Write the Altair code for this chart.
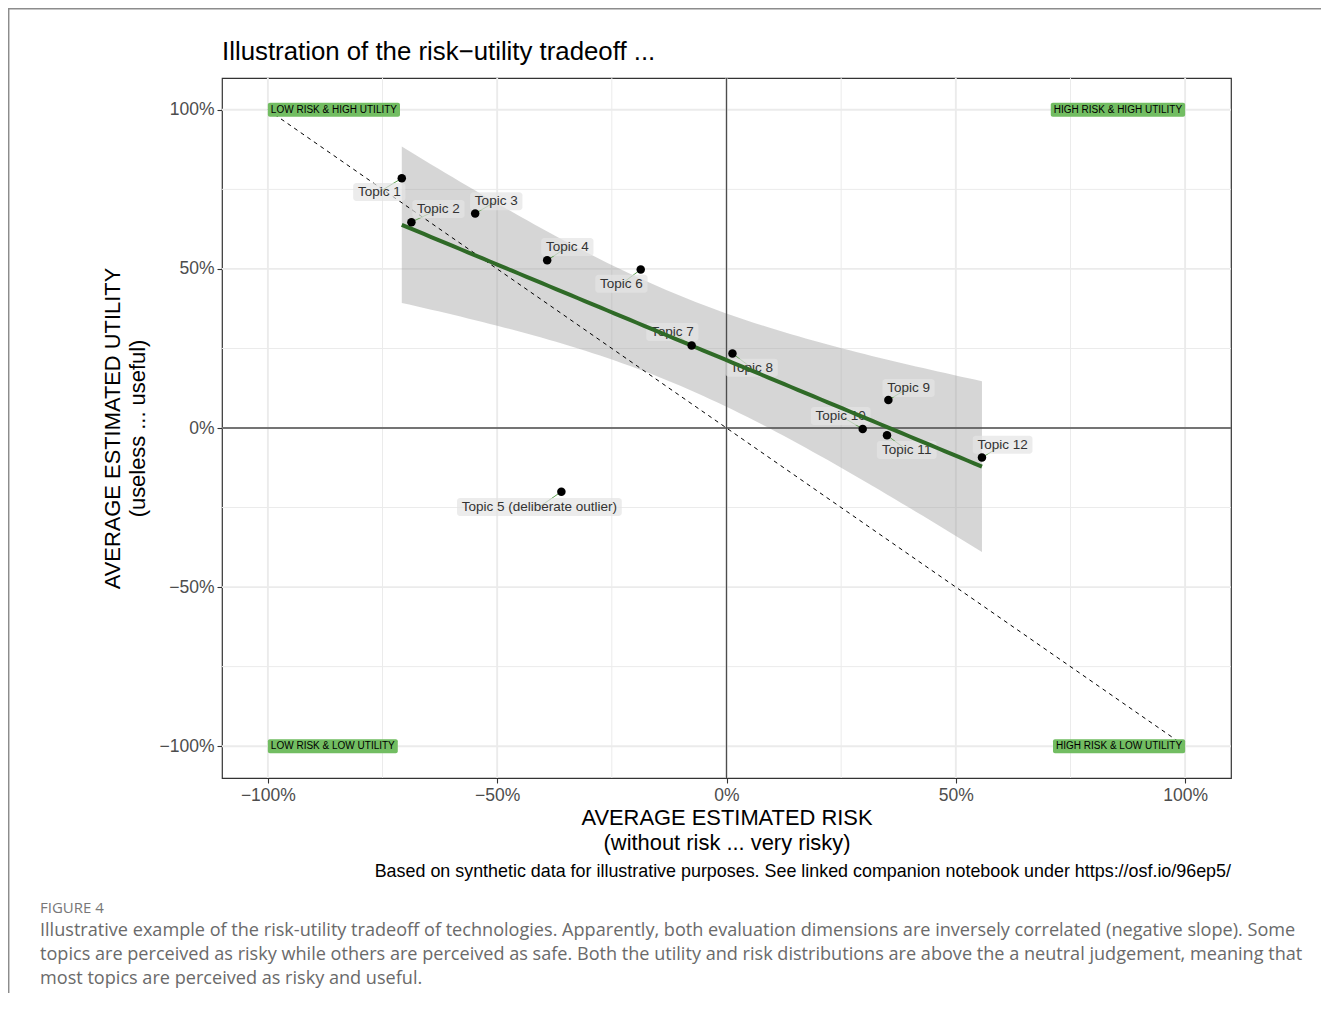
import altair as alt
import numpy as np
import pandas as pd

# ---------------- data ----------------
topic = ["Topic 1", "Topic 2", "Topic 3", "Topic 4", "Topic 5", "Topic 6",
         "Topic 7", "Topic 8", "Topic 9", "Topic 10", "Topic 11", "Topic 12"]
label = ["Topic 1", "Topic 2", "Topic 3", "Topic 4", "Topic 5 (deliberate outlier)", "Topic 6",
         "Topic 7", "Topic 8", "Topic 9", "Topic 10", "Topic 11", "Topic 12"]
risk = [-0.708, -0.687, -0.548, -0.391, -0.360, -0.187, -0.076, 0.013, 0.353, 0.297, 0.350, 0.557]
utility = [0.785, 0.647, 0.674, 0.527, -0.200, 0.498, 0.259, 0.234, 0.088, -0.003, -0.023, -0.093]
label_risk = [-0.757, -0.628, -0.502, -0.347, -0.408, -0.229, -0.118, 0.055, 0.397, 0.249, 0.393, 0.602]
label_utility = [0.742, 0.688, 0.713, 0.569, -0.248, 0.453, 0.302, 0.189, 0.126, 0.038, -0.069, -0.053]

corner_text = ["LOW RISK & HIGH UTILITY", "HIGH RISK & HIGH UTILITY",
               "LOW RISK & LOW UTILITY", "HIGH RISK & LOW UTILITY"]
corner_risk = [-1, 1, -1, 1]
corner_utility = [1, 1, -1, -1]
corner_hjust = [0, 1, 0, 1]

diag_risk = [-1, 1]
diag_utility = [1, -1]

major_breaks = [-1, -0.5, 0, 0.5, 1]
minor_breaks = [-0.75, -0.25, 0.25, 0.75]

title_text = "Illustration of the risk\u2212utility tradeoff ..."
x_title = ["AVERAGE ESTIMATED RISK", "(without risk ... very risky)"]
y_title = ["AVERAGE ESTIMATED UTILITY", "(useless ... useful)"]
note_text = "Based on synthetic data for illustrative purposes. See linked companion notebook under https://osf.io/96ep5/"
fig_label = "FIGURE 4"
caption_lines = [
    "Illustrative example of the risk-utility tradeoff of technologies. Apparently, both evaluation dimensions are inversely correlated (negative slope). Some",
    "topics are perceived as risky while others are perceived as safe. Both the utility and risk distributions are above the a neutral judgement, meaning that",
    "most topics are perceived as risky and useful.",
]

# ---------------- layout / style ----------------
W_PLOT, H_PLOT = 1009, 700
DOM = [-1.1, 1.1]
PX_X = W_PLOT / (DOM[1] - DOM[0])
PX_Y = H_PLOT / (DOM[1] - DOM[0])
FONT = "Liberation Sans"
LAB_SIZE = 13.5
CORNER_SIZE = 10

# Helvetica / Arial advance widths (per 1000 em) to size the label boxes
ADV = {' ': 278, 'T': 611, 'o': 556, 'p': 556, 'i': 222, 'c': 500, '(': 333, ')': 333,
       'd': 556, 'e': 556, 'l': 222, 'b': 556, 'r': 333, 'a': 556, 't': 278, 'u': 556,
       'L': 556, 'O': 778, 'W': 944, 'R': 722, 'I': 278, 'S': 667, 'K': 667, '&': 667,
       'H': 722, 'G': 778, 'U': 722, 'Y': 667}


def text_w(s, size):
    return sum(ADV.get(ch, 556) for ch in s) / 1000.0 * size


# ---------------- tables ----------------
pts = pd.DataFrame({"topic": topic, "risk": risk, "utility": utility,
                    "label": label, "lrisk": label_risk, "lutil": label_utility})
bw = np.array([text_w(s, LAB_SIZE) + 8 for s in label]) / PX_X
bh = 18 / PX_Y
pts["bx1"] = pts["lrisk"] - bw / 2
pts["bx2"] = pts["lrisk"] + bw / 2
pts["by1"] = pts["lutil"] - bh / 2
pts["by2"] = pts["lutil"] + bh / 2

cw = np.array([text_w(s, CORNER_SIZE) + 6 for s in corner_text]) / PX_X
corners = pd.DataFrame({"text": corner_text, "risk": corner_risk, "utility": corner_utility,
                        "hj": corner_hjust})
corners["x1"] = np.where(corners["hj"] == 0, corners["risk"], corners["risk"] - cw)
corners["x2"] = np.where(corners["hj"] == 0, corners["risk"] + cw, corners["risk"])
corners["xc"] = (corners["x1"] + corners["x2"]) / 2
corners["y1"] = corners["utility"] - 7 / PX_Y
corners["y2"] = corners["utility"] + 7 / PX_Y

# linear model fit with 95% confidence band (as geom_smooth(method="lm"))
xv = np.array(risk)
yv = np.array(utility)
n = len(xv)
b1, b0 = np.polyfit(xv, yv, 1)
resid = yv - (b0 + b1 * xv)
s = np.sqrt((resid ** 2).sum() / (n - 2))
sxx = ((xv - xv.mean()) ** 2).sum()
T975 = 2.228138852  # t quantile, df = 10
grid = np.linspace(xv.min(), xv.max(), 80)
fit = b0 + b1 * grid
se = s * np.sqrt(1.0 / n + (grid - xv.mean()) ** 2 / sxx)
band = pd.DataFrame({"risk": grid, "fit": fit, "lo": fit - T975 * se, "hi": fit + T975 * se})

diag = pd.DataFrame({"risk": diag_risk, "utility": diag_utility})
major = pd.DataFrame({"v": major_breaks})
minor = pd.DataFrame({"v": minor_breaks})
zero = pd.DataFrame({"v": [0]})

# ---------------- scales / axes ----------------
xs = alt.Scale(domain=DOM, nice=False, zero=False)
ys = alt.Scale(domain=DOM, nice=False, zero=False)
x_axis = alt.Axis(values=major_breaks, format=".0%", title=x_title, grid=False,
                  titlePadding=4, titleLineHeight=25)
y_axis = alt.Axis(values=major_breaks, format=".0%", title=y_title, grid=False,
                  titlePadding=10, titleLineHeight=25)


def X(f):
    return alt.X(f, type="quantitative", scale=xs, axis=x_axis)


def Y(f):
    return alt.Y(f, type="quantitative", scale=ys, axis=y_axis)


# ---------------- layers ----------------
minor_v = alt.Chart(minor).mark_rule(color="#ebebeb", strokeWidth=1).encode(x=X("v"))
minor_h = alt.Chart(minor).mark_rule(color="#ebebeb", strokeWidth=1).encode(y=Y("v"))
major_v = alt.Chart(major).mark_rule(color="#ebebeb", strokeWidth=1.9).encode(x=X("v"))
major_h = alt.Chart(major).mark_rule(color="#ebebeb", strokeWidth=1.9).encode(y=Y("v"))

band_l = alt.Chart(band).mark_area(color="#999999", opacity=0.4).encode(
    x=X("risk"), y=Y("lo"), y2=alt.Y2("hi"))

zero_v = alt.Chart(zero).mark_rule(color="#4d4d4d", strokeWidth=1.3).encode(x=X("v"))
zero_h = alt.Chart(zero).mark_rule(color="#4d4d4d", strokeWidth=1.3).encode(y=Y("v"))

diag_l = alt.Chart(diag).mark_line(color="black", strokeWidth=1, strokeDash=[4, 4]).encode(
    x=X("risk"), y=Y("utility"))

seg = alt.Chart(pts).mark_rule(color="#5fa052", strokeWidth=1).encode(
    x=X("risk"), y=Y("utility"), x2=alt.X2("lrisk"), y2=alt.Y2("lutil"))

lab_box = alt.Chart(pts).mark_rect(color="#e4e4e4", opacity=0.7, cornerRadius=3).encode(
    x=X("bx1"), x2=alt.X2("bx2"), y=Y("by1"), y2=alt.Y2("by2"))

lab_txt = alt.Chart(pts).mark_text(font=FONT, fontSize=LAB_SIZE, color="#333333",
                                   baseline="middle", align="center").encode(
    x=X("lrisk"), y=Y("lutil"), text="label:N")

fit_l = alt.Chart(band).mark_line(color="#2f6a27", strokeWidth=4).encode(
    x=X("risk"), y=Y("fit"))

points = alt.Chart(pts).mark_circle(size=72, color="black", opacity=1).encode(
    x=X("risk"), y=Y("utility"))

corner_box = alt.Chart(corners).mark_rect(color="#72bd62", cornerRadius=2).encode(
    x=X("x1"), x2=alt.X2("x2"), y=Y("y1"), y2=alt.Y2("y2"))
corner_txt = alt.Chart(corners).mark_text(font=FONT, fontSize=CORNER_SIZE, color="black",
                                          baseline="middle", align="center").encode(
    x=X("xc"), y=Y("utility"), text="text:N")

one = pd.DataFrame({"t": [note_text], "f": [fig_label], "c": ["\n".join(caption_lines)],
                    "h": [title_text]})
title_l = alt.Chart(one).mark_text(font=FONT, fontSize=25.8, color="black", align="left",
                                   baseline="middle").encode(
    x=alt.value(0), y=alt.value(-26), text="h:N")
note = alt.Chart(one).mark_text(font=FONT, fontSize=17.9, color="black", align="right",
                                baseline="middle").encode(
    x=alt.value(W_PLOT), y=alt.value(794), text="t:N")
fig = alt.Chart(one).mark_text(font="Open Sans", fontSize=15, color="#777777", align="left",
                               baseline="middle").encode(
    x=alt.value(-182), y=alt.value(830), text="f:N")
cap = alt.Chart(one).mark_text(font="Open Sans", fontSize=18.1, color="#6a6a6a", align="left",
                               baseline="middle", lineBreak="\n", lineHeight=24).encode(
    x=alt.value(-182), y=alt.value(853), text="c:N")

frame_top = alt.Chart(one).mark_rule(color="#8c8c8c", strokeWidth=1.5).encode(
    x=alt.value(-214), x2=alt.value(W_PLOT + 90), y=alt.value(-69.3))
frame_left = alt.Chart(one).mark_rule(color="#8c8c8c", strokeWidth=1.5).encode(
    x=alt.value(-213.3), y=alt.value(-70), y2=alt.value(H_PLOT + 215))

chart = alt.layer(
    minor_v, minor_h, major_v, major_h, band_l, zero_v, zero_h, diag_l,
    seg, lab_box, lab_txt, fit_l, points, corner_box, corner_txt,
    title_l, note, fig, cap, frame_top, frame_left,
).properties(
    width=W_PLOT, height=H_PLOT,
    padding={"left": 214, "top": 70, "right": 90, "bottom": 215},
    autosize=alt.AutoSizeParams(type="none"),
    background="white",
).configure_view(
    stroke="#333333", strokeWidth=1.2
).configure_axis(
    labelFont=FONT, labelFontSize=17.5, labelColor="#4d4d4d", labelPadding=3,
    tickColor="#333333", tickWidth=1.1, tickSize=5, domain=False,
    titleFont=FONT, titleFontSize=21.9, titleFontWeight="normal", titleColor="black",
)

chart.save("out.html", embed_options={"renderer": "svg", "actions": False})
